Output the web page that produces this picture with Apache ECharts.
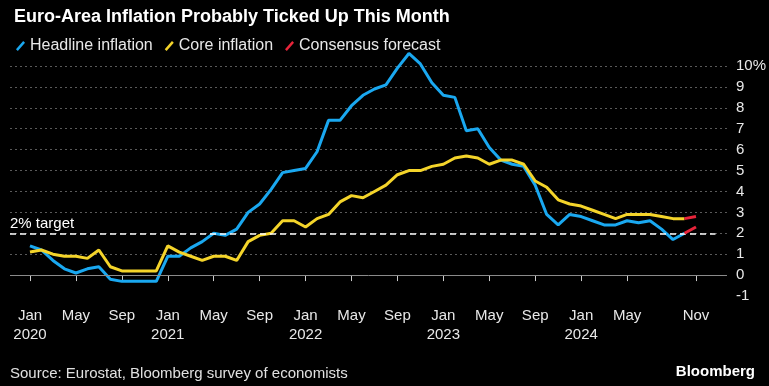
<!DOCTYPE html>
<html><head><meta charset="utf-8">
<script src="https://cdn.jsdelivr.net/npm/echarts@6/dist/echarts.min.js"></script>
<style>html,body{margin:0;padding:0;background:#000;}#c{width:769px;height:386px;}</style>
</head><body><div id="c"></div>
<script>
// Months: Jan 2020 (index 0) ... Nov 2024 (index 58)
var startYear = 2020;
var monthNames = ['Jan','Feb','Mar','Apr','May','Jun','Jul','Aug','Sep','Oct','Nov','Dec'];
// Headline inflation, Jan 2020 - Oct 2024
var headline = [1.4,1.2,0.7,0.3,0.1,0.3,0.4,-0.2,-0.3,-0.3,-0.3,-0.3,
  0.9,0.9,1.3,1.6,2.0,1.9,2.2,3.0,3.4,4.1,4.9,5.0,
  5.1,5.9,7.4,7.4,8.1,8.6,8.9,9.1,9.9,10.6,10.1,9.2,
  8.6,8.5,6.9,7.0,6.1,5.5,5.3,5.2,4.3,2.9,2.4,2.9,
  2.8,2.6,2.4,2.4,2.6,2.5,2.6,2.2,1.7,2.0];
// Core inflation, Jan 2020 - Oct 2024
var core = [1.1,1.2,1.0,0.9,0.9,0.8,1.2,0.4,0.2,0.2,0.2,0.2,
  1.4,1.1,0.9,0.7,0.9,0.9,0.7,1.6,1.9,2.0,2.6,2.6,
  2.3,2.7,2.9,3.5,3.8,3.7,4.0,4.3,4.8,5.0,5.0,5.2,
  5.3,5.6,5.7,5.6,5.3,5.5,5.5,5.3,4.5,4.2,3.6,3.4,
  3.3,3.1,2.9,2.7,2.9,2.9,2.9,2.8,2.7,2.7];
// Consensus forecast: Oct 2024 (last actual) -> Nov 2024
var forecastHeadline = [2.0, 2.3];
var forecastCore = [2.7, 2.8];
var forecastStart = 57;
var xTickIdx = [0,4,8,12,16,20,24,28,32,36,40,44,48,52,58];
var yTicks = [-1,0,1,2,3,4,5,6,7,8,9,10];
var targetValue = 2;
var targetLabel = '2% target';

function toPts(arr, off){ return arr.map(function(v,i){ return [i+(off||0), v]; }); }
function monthLabel(i){
  var m = i % 12, y = startYear + Math.floor(i/12);
  return m === 0 ? monthNames[m] + '\n' + y : monthNames[m];
}
var FONT = '"Liberation Sans", sans-serif';
var BLUE = '#1aa8f0', YEL = '#f4d42a', RED = '#e8243a';
var icon = 'path://M0,10 L8,1 L10,3 L2,12 Z';
var X_MIN = -1.74, X_MAX = 60.7;

var chart = echarts.init(document.getElementById('c'), null, {renderer:'canvas'});
chart.setOption({
  backgroundColor: '#000',
  animation: false,
  title: {
    text: 'Euro-Area Inflation Probably Ticked Up This Month',
    left: 9, top: 3,
    textStyle: {color:'#fff', fontFamily:'"Liberation Sans", sans-serif', fontWeight:'bold', fontSize:18}
  },
  legend: {
    left: 11, top: 33,
    data: [{name:'Headline inflation', icon: icon, itemStyle:{color:BLUE}},
           {name:'Core inflation', icon: icon, itemStyle:{color:YEL}},
           {name:'Consensus forecast', icon: icon, itemStyle:{color:RED}}],
    itemWidth: 9, itemHeight: 11, itemGap: 12,
    textStyle: {color:'#e8e8e8', fontFamily: FONT, fontSize: 16}
  },
  graphic: [
    {type:'text', left: 10, top: 366, style:{text:'Source: Eurostat, Bloomberg survey of economists', fill:'#e0e0e0', font:'15px ' + FONT}},
    {type:'text', right: 14, top: 364, style:{text:'Bloomberg', fill:'#fff', font:'bold 15px ' + FONT}}
  ],
  grid: {left: 10, right: 42, top: 66, bottom: 90},
  xAxis: {
    type: 'value', min: X_MIN, max: X_MAX,
    axisLine: {show:false},
    splitLine: {show:false},
    axisTick: {show:true, customValues: xTickIdx, length: 6, lineStyle:{color:'#ccc'}},
    axisLabel: {customValues: xTickIdx, formatter: function(v){ return monthLabel(v); },
      color:'#e8e8e8', fontFamily: FONT, fontSize: 15, lineHeight: 19, margin: 10}
  },
  yAxis: {
    type: 'value', position: 'right', min: yTicks[0], max: yTicks[yTicks.length-1], interval: 1,
    axisLine: {show:false}, axisTick: {show:false},
    splitLine: {show:true, showMinLine:false, lineStyle:{color:'#5a5a5a', type:[2,3], width:1}},
    axisLabel: {color:'#e8e8e8', fontFamily: FONT, fontSize: 15, margin: 9, align:'left',
      formatter: function(v){ return v === yTicks[yTicks.length-1] ? v + '%' : String(v); }}
  },
  series: [
    {name:'Headline inflation', type:'line', data: toPts(headline), symbol:'none', clip: false,
     lineStyle:{color:BLUE, width:3}, itemStyle:{color:BLUE}, z: 3,
     markLine: {silent:true, symbol:'none', animation:false, data:[
       {yAxis: 0, lineStyle:{color:'#8a8a8a', type:'solid', width:1}, label:{show:false}},
       [{coord:[X_MIN, targetValue], lineStyle:{color:'#fff', type:[6,4], width:1.5},
         label:{show:true, position:'insideStartTop', formatter: targetLabel, color:'#fff', fontFamily: FONT, fontSize: 15, distance:[0,2]}},
        {coord:[59.7, targetValue]}]
     ]}},
    {name:'Core inflation', type:'line', data: toPts(core), symbol:'none', clip: false,
     lineStyle:{color:YEL, width:3}, itemStyle:{color:YEL}, z: 4},
    {name:'Consensus forecast', type:'line', data: toPts(forecastHeadline, forecastStart), symbol:'none',
     lineStyle:{color:RED, width:3}, itemStyle:{color:RED}, z: 5},
    {name:'Consensus forecast', type:'line', data: toPts(forecastCore, forecastStart), symbol:'none',
     lineStyle:{color:RED, width:3}, itemStyle:{color:RED}, z: 5}
  ]
});
</script></body></html>
